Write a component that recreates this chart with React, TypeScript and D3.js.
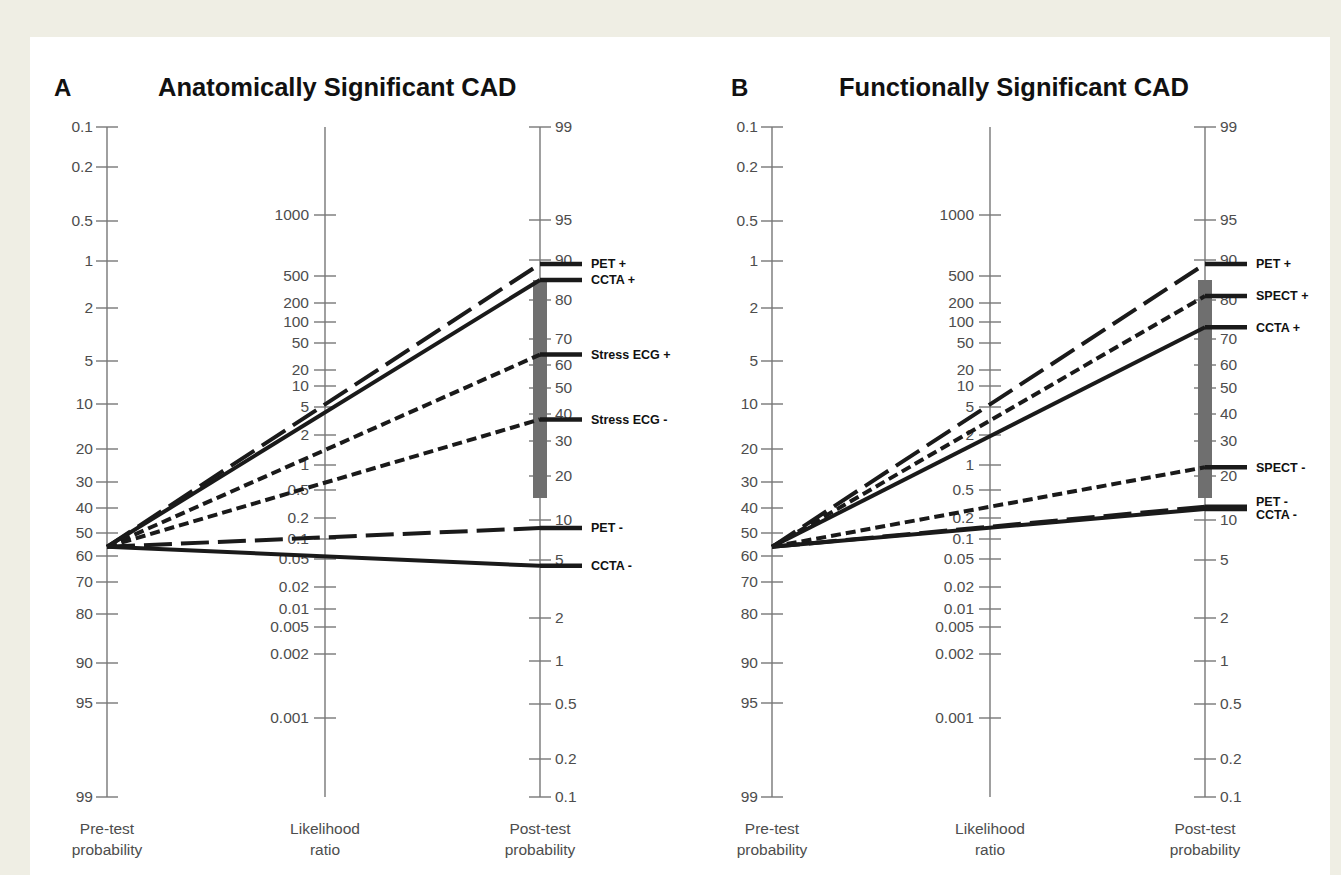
import * as d3 from 'd3';
import React from 'react';

// Fagan nomogram values
const pretest = 56;

const preTicks = [0.1, 0.2, 0.5, 1, 2, 5, 10, 20, 30, 40, 50, 60, 70, 80, 90, 95, 99];
const lrTicks = [1000, 500, 200, 100, 50, 20, 10, 5, 2, 1, 0.5, 0.2, 0.1, 0.05, 0.02, 0.01, 0.005, 0.002, 0.001];
const postTicks = [99, 95, 90, 80, 70, 60, 50, 40, 30, 20, 10, 5, 2, 1, 0.5, 0.2, 0.1];

const panelATests = ['PET +', 'CCTA +', 'Stress ECG +', 'Stress ECG -', 'PET -', 'CCTA -'];
const panelAPost = [89, 85, 64, 38, 9, 4.7];

const panelBTests = ['PET +', 'SPECT +', 'CCTA +', 'SPECT -', 'PET -', 'CCTA -'];
const panelBPost = [89, 81, 73, 22.5, 13, 12.5];

// grey band on post-test axis (intermediate range)
const bandRange = [15, 85];

// axis calibration as printed (fraction of axis length from top)
const preCal = [0, 40, 94, 134, 181, 234, 277, 322, 355, 381, 406, 429, 455, 487, 536, 576, 670].map(v => v / 670);
const lrCal = [88, 149, 176, 195, 216, 243, 259, 280, 308, 338, 363, 391, 412, 432, 460, 482, 500, 527, 591].map(v => v / 670);
const postCal = [0, 93, 133, 173, 212, 238, 261, 287, 314, 349, 393, 433, 491, 534, 577, 632, 670].map(v => v / 670);

const W = 1341, H = 875;
const axTop = 127, axBottom = 797;
const gap = 217;
const font = 'Liberation Sans, Arial, sans-serif';

const dashFor = (name: string) =>
  name.startsWith('PET') ? '28,9' : name.startsWith('CCTA') ? null : '10,5';

const yPre = d3.scaleLinear().domain(preTicks).range(preCal.map(f => axTop + f * (axBottom - axTop)));
const yLr = d3.scaleLog().domain(lrTicks).range(lrCal.map(f => axTop + f * (axBottom - axTop)));
const yPost = d3.scaleLinear().domain(postTicks).range(postCal.map(f => axTop + f * (axBottom - axTop)));

const tickFmt = (v: number) => String(v);

interface PanelProps {
  x0: number;
  letter: string;
  letterX: number;
  title: string;
  titleX: number;
  tests: string[];
  post: number[];
}

const Panel: React.FC<PanelProps> = ({ x0, letter, letterX, title, titleX, tests, post }) => {
  const xPre = x0, xLr = x0 + gap + 1, xPost = x0 + 2 * gap - 1;
  const grey = '#777';
  const labelFont = { fontFamily: font, fontSize: 15.5, fill: '#4d4d4d' };

  // label y positions, spread apart a little when they collide
  const items = tests.map((t, i) => ({ t, v: post[i], y: yPost(post[i]), ly: yPost(post[i]) }));
  const sorted = [...items].sort((a, b) => a.y - b.y);
  for (let i = 1; i < sorted.length; i++) {
    if (sorted[i].ly - sorted[i - 1].ly < 13) {
      const mid = (sorted[i].ly + sorted[i - 1].ly) / 2;
      sorted[i - 1].ly = mid - 6.5;
      sorted[i].ly = mid + 6.5;
    }
  }
  const y0 = yPre(pretest);

  return (
    <g>
      <text x={letterX} y={96} style={{ fontFamily: font, fontWeight: 700, fontSize: 24, fill: '#111' }}>{letter}</text>
      <text x={titleX} y={96} style={{ fontFamily: font, fontWeight: 700, fontSize: 25.5, fill: '#111' }}>{title}</text>

      {/* axes */}
      {[xPre, xLr, xPost].map((x, i) => (
        <line key={i} x1={x} x2={x} y1={axTop} y2={axBottom} stroke={grey} strokeWidth={1.4} />
      ))}
      {preTicks.map(v => (
        <g key={'pre' + v}>
          <line x1={xPre - 11} x2={xPre + 11} y1={yPre(v)} y2={yPre(v)} stroke={grey} strokeWidth={1.4} />
          <text x={xPre - 14} y={yPre(v)} dy="0.35em" textAnchor="end" style={labelFont}>{tickFmt(v)}</text>
        </g>
      ))}
      {lrTicks.map(v => (
        <g key={'lr' + v}>
          <line x1={xLr - 11} x2={xLr + 11} y1={yLr(v)} y2={yLr(v)} stroke={grey} strokeWidth={1.4} />
          <text x={xLr - 16} y={yLr(v)} dy="0.35em" textAnchor="end" style={labelFont}>{tickFmt(v)}</text>
        </g>
      ))}
      {postTicks.map(v => (
        <g key={'post' + v}>
          <line x1={xPost - 11} x2={xPost + 11} y1={yPost(v)} y2={yPost(v)} stroke={grey} strokeWidth={1.4} />
          <text x={xPost + 15} y={yPost(v)} dy="0.35em" textAnchor="start" style={labelFont}>{tickFmt(v)}</text>
        </g>
      ))}

      {/* grey band */}
      <rect x={xPost - 7} width={14} y={yPost(bandRange[1])} height={yPost(bandRange[0]) - yPost(bandRange[1])} fill="#6f6f6f" />

      {/* test lines */}
      {items.map(d => (
        <g key={d.t}>
          <line x1={xPre} y1={y0} x2={xPost} y2={d.y} stroke="#1a1a1a" strokeWidth={4}
            strokeDasharray={dashFor(d.t) ?? undefined} />
          <line x1={xPost} x2={xPost + 42} y1={d.y} y2={d.y} stroke="#1a1a1a" strokeWidth={4.5} />
          <text x={xPost + 51} y={d.ly} dy="0.35em" style={{ fontFamily: font, fontWeight: 700, fontSize: 12.5, fill: '#111' }}>{d.t}</text>
        </g>
      ))}

      {/* axis titles */}
      {[[xPre, 'Pre-test', 'probability'], [xLr, 'Likelihood', 'ratio'], [xPost, 'Post-test', 'probability']].map(([x, a, b]) => (
        <text key={a as string} x={x as number} textAnchor="middle" style={labelFont}>
          <tspan x={x as number} y={834}>{a}</tspan>
          <tspan x={x as number} y={855}>{b}</tspan>
        </text>
      ))}
    </g>
  );
};

const App: React.FC = () => (
  <div style={{ position: 'absolute', left: 0, top: 0 }}>
    <svg width={W} height={H} style={{ display: 'block' }}>
      <rect x={0} y={0} width={W} height={H} fill="#efeee4" />
      <rect x={30} y={37} width={1300} height={H - 37} fill="#ffffff" />
      <Panel x0={107} letter="A" letterX={54} title="Anatomically Significant CAD" titleX={158}
        tests={panelATests} post={panelAPost} />
      <Panel x0={772} letter="B" letterX={731} title="Functionally Significant CAD" titleX={839}
        tests={panelBTests} post={panelBPost} />
    </svg>
  </div>
);

export default App;
